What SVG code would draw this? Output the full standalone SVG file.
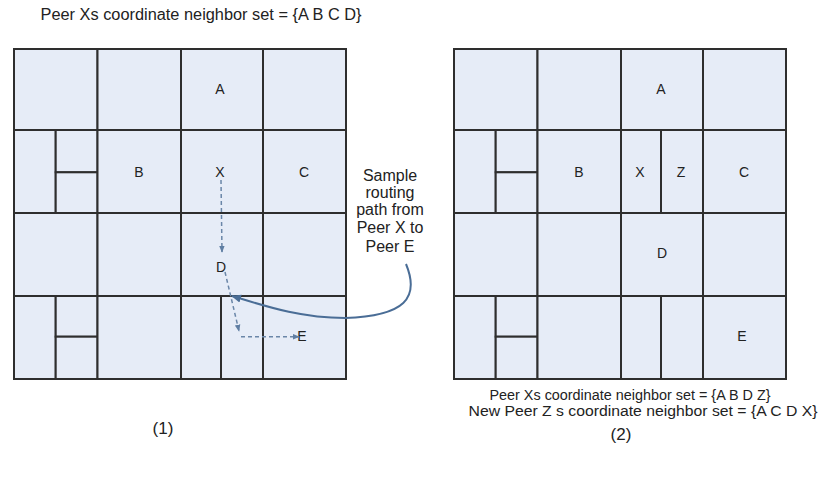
<svg xmlns="http://www.w3.org/2000/svg" width="829" height="477" viewBox="0 0 829 477">
<style>
.c{fill:#e6ecf7;stroke:#2e2e2e;stroke-width:2}
.l{font-family:"Liberation Sans",Arial,sans-serif;font-size:14px;fill:#222;text-anchor:middle}
.t{font-family:"Liberation Sans",Arial,sans-serif;fill:#222;text-anchor:middle}
.d{fill:none;stroke:#6a86a8;stroke-width:1.5;stroke-dasharray:4 3}
</style>
<defs>
<marker id="ah" viewBox="0 0 10 10" refX="9" refY="5" markerWidth="7" markerHeight="7" orient="auto" markerUnits="userSpaceOnUse">
<path d="M0,1 L10,5 L0,9 Z" fill="#5f7ea3"/>
</marker>
<marker id="ahs" viewBox="0 0 10 10" refX="9" refY="5" markerWidth="10" markerHeight="10" orient="auto" markerUnits="userSpaceOnUse">
<path d="M0,1 L10,5 L0,9 Z" fill="#4a6d96"/>
</marker>
</defs>
<rect width="829" height="477" fill="#ffffff"/>
<text class="t" x="201" y="20" font-size="16" textLength="321" lengthAdjust="spacingAndGlyphs">Peer Xs coordinate neighbor set = {A B C D}</text>

<g id="grid1">
<g id="L-r1c1"><rect class="c" x="14" y="49" width="83.5" height="81"/></g>
<g id="L-r1c2"><rect class="c" x="97.5" y="49" width="83.5" height="81"/></g>
<g id="L-A"><rect class="c" x="181" y="49" width="82" height="81"/><text class="l" x="220" y="94">A</text></g>
<g id="L-r1c4"><rect class="c" x="263" y="49" width="83" height="81"/></g>
<g id="L-r2c1a"><rect class="c" x="14" y="130" width="41.7" height="83"/></g>
<g id="L-r2c1b"><rect class="c" x="55.7" y="130" width="41.8" height="42.3"/></g>
<g id="L-r2c1c"><rect class="c" x="55.7" y="172.3" width="41.8" height="40.7"/></g>
<g id="L-B"><rect class="c" x="97.5" y="130" width="83.5" height="83"/><text class="l" x="139" y="177">B</text></g>
<g id="L-X"><rect class="c" x="181" y="130" width="82" height="83"/><text class="l" x="220" y="177">X</text></g>
<g id="L-C"><rect class="c" x="263" y="130" width="83" height="83"/><text class="l" x="304" y="177">C</text></g>
<g id="L-r3c1"><rect class="c" x="14" y="213" width="83.5" height="83"/></g>
<g id="L-r3c2"><rect class="c" x="97.5" y="213" width="83.5" height="83"/></g>
<g id="L-D"><rect class="c" x="181" y="213" width="82" height="83"/><text class="l" x="221" y="272">D</text></g>
<g id="L-r3c4"><rect class="c" x="263" y="213" width="83" height="83"/></g>
<g id="L-r4c1a"><rect class="c" x="14" y="296" width="41.7" height="83"/></g>
<g id="L-r4c1b"><rect class="c" x="55.7" y="296" width="41.8" height="40.7"/></g>
<g id="L-r4c1c"><rect class="c" x="55.7" y="336.7" width="41.8" height="42.3"/></g>
<g id="L-r4c2"><rect class="c" x="97.5" y="296" width="83.5" height="83"/></g>
<g id="L-r4c3a"><rect class="c" x="181" y="296" width="40" height="83"/></g>
<g id="L-r4c3b"><rect class="c" x="221" y="296" width="42" height="83"/></g>
<g id="L-E"><rect class="c" x="263" y="296" width="83" height="83"/><text class="l" x="302" y="341">E</text></g>
</g>

<g id="grid2">
<g id="R-r1c1"><rect class="c" x="454" y="49" width="83.5" height="81"/></g>
<g id="R-r1c2"><rect class="c" x="537.5" y="49" width="83.5" height="81"/></g>
<g id="R-A"><rect class="c" x="621" y="49" width="82" height="81"/><text class="l" x="661" y="94">A</text></g>
<g id="R-r1c4"><rect class="c" x="703" y="49" width="83" height="81"/></g>
<g id="R-r2c1a"><rect class="c" x="454" y="130" width="41.7" height="83"/></g>
<g id="R-r2c1b"><rect class="c" x="495.7" y="130" width="41.8" height="42.3"/></g>
<g id="R-r2c1c"><rect class="c" x="495.7" y="172.3" width="41.8" height="40.7"/></g>
<g id="R-B"><rect class="c" x="537.5" y="130" width="83.5" height="83"/><text class="l" x="579" y="177">B</text></g>
<g id="R-X"><rect class="c" x="621" y="130" width="40" height="83"/><text class="l" x="640" y="177">X</text></g>
<g id="R-Z"><rect class="c" x="661" y="130" width="42" height="83"/><text class="l" x="681" y="177">Z</text></g>
<g id="R-C"><rect class="c" x="703" y="130" width="83" height="83"/><text class="l" x="744" y="177">C</text></g>
<g id="R-r3c1"><rect class="c" x="454" y="213" width="83.5" height="83"/></g>
<g id="R-r3c2"><rect class="c" x="537.5" y="213" width="83.5" height="83"/></g>
<g id="R-D"><rect class="c" x="621" y="213" width="82" height="83"/><text class="l" x="662" y="258">D</text></g>
<g id="R-r3c4"><rect class="c" x="703" y="213" width="83" height="83"/></g>
<g id="R-r4c1a"><rect class="c" x="454" y="296" width="41.7" height="83"/></g>
<g id="R-r4c1b"><rect class="c" x="495.7" y="296" width="41.8" height="40.7"/></g>
<g id="R-r4c1c"><rect class="c" x="495.7" y="336.7" width="41.8" height="42.3"/></g>
<g id="R-r4c2"><rect class="c" x="537.5" y="296" width="83.5" height="83"/></g>
<g id="R-r4c3a"><rect class="c" x="621" y="296" width="40" height="83"/></g>
<g id="R-r4c3b"><rect class="c" x="661" y="296" width="42" height="83"/></g>
<g id="R-E"><rect class="c" x="703" y="296" width="83" height="83"/><text class="l" x="742" y="341">E</text></g>
</g>

<g id="connectors">
<path class="d" d="M221,180 L222,252" marker-end="url(#ah)"/>
<path class="d" d="M225,272 L239,331" marker-end="url(#ah)"/>
<path class="d" d="M241,336.7 L299,336.7" marker-end="url(#ah)"/>
<path d="M406,264 C420,298 405,316 345,318 C300,318 265,306 232,296" fill="none" stroke="#4a6d96" stroke-width="2" marker-end="url(#ahs)"/>
</g>

<g id="callout">
<text class="t" font-size="16"><tspan x="390" y="181">Sample</tspan><tspan x="390" y="198">routing</tspan><tspan x="390" y="215">path from</tspan><tspan x="390" y="233">Peer X to</tspan><tspan x="390" y="252">Peer E</tspan></text>
</g>

<text class="t" x="163" y="434" font-size="17">(1)</text>
<text class="t" x="630" y="400" font-size="14" textLength="281" lengthAdjust="spacingAndGlyphs">Peer Xs coordinate neighbor set = {A B D Z}</text>
<text class="t" x="643" y="416" font-size="14" textLength="349" lengthAdjust="spacingAndGlyphs">New Peer Z s coordinate neighbor set = {A C D X}</text>
<text class="t" x="621" y="440" font-size="17">(2)</text>
</svg>
